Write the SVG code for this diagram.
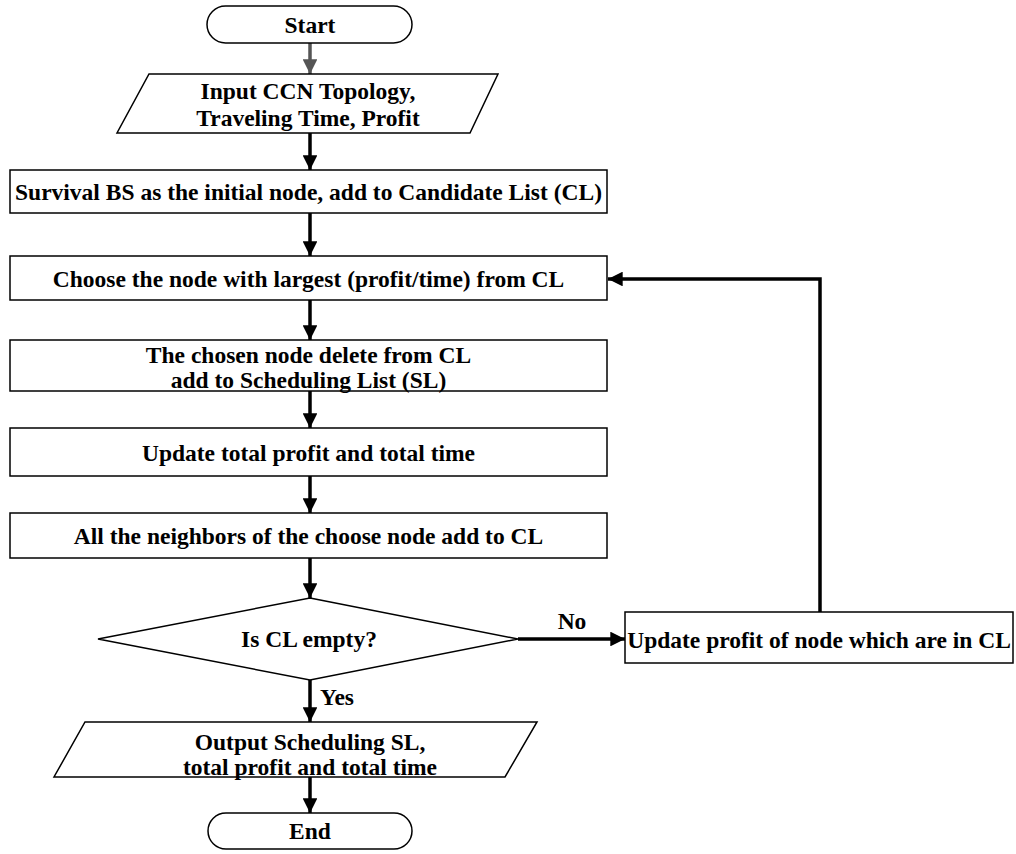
<svg xmlns="http://www.w3.org/2000/svg" width="1016" height="854" viewBox="0 0 1016 854">
  <style>
    .shape { fill: #ffffff; stroke: #000000; stroke-width: 1.5; }
    .lbl { font-family: "Liberation Serif", "Times New Roman", serif; font-weight: bold; font-size: 23.5px; fill: #000000; text-anchor: middle; dominant-baseline: central; }
    .edge { fill: none; stroke: #000000; stroke-width: 3.5; }
    .edge-gray { fill: none; stroke: #555555; stroke-width: 3.5; }
  </style>
  <defs>
    <marker id="arrow" viewBox="0 0 10 10" refX="10" refY="5" markerWidth="4.2" markerHeight="4.2" markerUnits="strokeWidth" orient="auto">
      <path d="M0,0 L10,5 L0,10 Z" fill="#000000"/>
    </marker>
    <marker id="arrow-gray" viewBox="0 0 10 10" refX="10" refY="5" markerWidth="4.2" markerHeight="4.2" markerUnits="strokeWidth" orient="auto">
      <path d="M0,0 L10,5 L0,10 Z" fill="#555555"/>
    </marker>
  </defs>

  <g id="connectors">
    <line class="edge-gray" x1="310" y1="43" x2="310" y2="74" marker-end="url(#arrow-gray)"/>
    <line class="edge" x1="310" y1="133" x2="310" y2="170" marker-end="url(#arrow)"/>
    <line class="edge" x1="310" y1="213" x2="310" y2="256" marker-end="url(#arrow)"/>
    <line class="edge" x1="310" y1="300" x2="310" y2="340" marker-end="url(#arrow)"/>
    <line class="edge" x1="310" y1="391" x2="310" y2="428" marker-end="url(#arrow)"/>
    <line class="edge" x1="310" y1="476" x2="310" y2="513" marker-end="url(#arrow)"/>
    <line class="edge" x1="310" y1="558" x2="310" y2="598" marker-end="url(#arrow)"/>
    <line class="edge" x1="518" y1="639" x2="625" y2="639" marker-end="url(#arrow)"/>
    <polyline class="edge" points="820,612 820,279 608,279" marker-end="url(#arrow)"/>
    <line class="edge" x1="310" y1="680" x2="310" y2="722" marker-end="url(#arrow)"/>
    <line class="edge" x1="310" y1="777" x2="310" y2="813" marker-end="url(#arrow)"/>
    <text class="lbl" x="572" y="621">No</text>
    <text class="lbl" x="337" y="697">Yes</text>
  </g>

  <g id="start">
    <rect class="shape" x="207" y="6" width="205" height="37" rx="18.5"/>
    <text class="lbl" x="310" y="25">Start</text>
  </g>

  <g id="input">
    <polygon class="shape" points="149,74 498,74 470,133 117,133"/>
    <text class="lbl" x="308" y="91">Input CCN Topology,</text>
    <text class="lbl" x="308" y="118">Traveling Time, Profit</text>
  </g>

  <g id="init">
    <rect class="shape" x="10" y="170" width="597" height="43"/>
    <text class="lbl" x="308.500" y="192">Survival BS as the initial node, add to Candidate List (CL)</text>
  </g>

  <g id="choose">
    <rect class="shape" x="10" y="256" width="597" height="44"/>
    <text class="lbl" x="308.500" y="279">Choose the node with largest (profit/time) from CL</text>
  </g>

  <g id="move">
    <rect class="shape" x="10" y="340" width="597" height="51"/>
    <text class="lbl" x="308.500" y="355">The chosen node delete from CL</text>
    <text class="lbl" x="308.500" y="380">add to Scheduling List (SL)</text>
  </g>

  <g id="totals">
    <rect class="shape" x="10" y="428" width="597" height="48"/>
    <text class="lbl" x="308.500" y="453">Update total profit and total time</text>
  </g>

  <g id="neighbors">
    <rect class="shape" x="10" y="513" width="597" height="45"/>
    <text class="lbl" x="308.500" y="536">All the neighbors of the choose node add to CL</text>
  </g>

  <g id="decision">
    <polygon class="shape" points="310,598 518,639 310,680 98,639"/>
    <text class="lbl" x="309" y="639">Is CL empty?</text>
  </g>

  <g id="update-profit">
    <rect class="shape" x="625" y="612" width="388" height="51"/>
    <text class="lbl" x="819" y="640">Update profit of node which are in CL</text>
  </g>

  <g id="output">
    <polygon class="shape" points="85,722 537,722 505,777 54,777"/>
    <text class="lbl" x="310" y="742">Output Scheduling SL,</text>
    <text class="lbl" x="310" y="767">total profit and total time</text>
  </g>

  <g id="end">
    <rect class="shape" x="208" y="813" width="204" height="36" rx="18"/>
    <text class="lbl" x="310" y="831">End</text>
  </g>
</svg>
